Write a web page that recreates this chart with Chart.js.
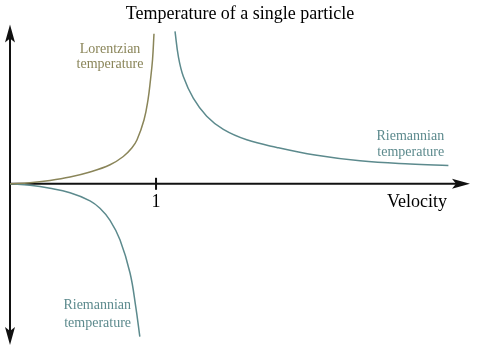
<!DOCTYPE html>
<html>
<head>
<meta charset="utf-8">
<script src="https://cdn.jsdelivr.net/npm/chart.js@4/dist/chart.umd.min.js"></script>
<style>
  html, body { margin: 0; padding: 0; background: #fff; }
  #wrap { width: 480px; height: 360px; }
</style>
</head>
<body>
<div id="wrap"><canvas id="chart"></canvas></div>
<script>
// velocity (x) and temperature (y)
const lorentzV = [0, 0.137, 0.274, 0.411, 0.548, 0.685, 0.776, 0.834, 0.870, 0.918, 0.945, 0.962, 0.976, 0.986];
const lorentzT = [0, 0.025, 0.083, 0.168, 0.293, 0.475, 0.683, 0.893, 1.10, 1.60, 2.10, 2.60, 3.10, 3.75];

const riemannLowV = [0, 0.137, 0.274, 0.411, 0.548, 0.616, 0.685, 0.753, 0.822, 0.861, 0.889];
const riemannLowT = [0, -0.038, -0.113, -0.225, -0.425, -0.613, -0.913, -1.40, -2.23, -3.07, -3.82];

const riemannHighV = [1.130, 1.153, 1.187, 1.255, 1.347, 1.461, 1.621, 1.827, 2.089, 2.397, 2.740, 3.002];
const riemannHighT = [3.81, 3.18, 2.68, 2.14, 1.69, 1.36, 1.10, 0.91, 0.72, 0.575, 0.495, 0.46];

const xTicks = [1];
const olive = "#8a8559";
const teal = "#5c8a8d";

const toPoints = (xs, ys) => xs.map((x, i) => ({ x: x, y: ys[i] }));

const serif = "'Liberation Serif', 'DejaVu Serif', serif";

// axes with arrows, tick and text labels
const axesPlugin = {
  id: "axesPlugin",
  beforeDatasetsDraw(chart) {
    const ctx = chart.ctx;
    const xs = chart.scales.x;
    const ys = chart.scales.y;
    const x0 = xs.getPixelForValue(0);
    const y0 = ys.getPixelForValue(0);
    const top = ys.getPixelForValue(ys.max);
    const bottom = ys.getPixelForValue(ys.min);
    const right = xs.getPixelForValue(xs.max);

    ctx.save();
    ctx.strokeStyle = "#111";
    ctx.fillStyle = "#111";
    ctx.lineWidth = 2;

    // y axis
    ctx.beginPath();
    ctx.moveTo(x0, top + 12);
    ctx.lineTo(x0, bottom - 12);
    ctx.stroke();
    // x axis
    ctx.beginPath();
    ctx.moveTo(x0, y0);
    ctx.lineTo(right - 12, y0);
    ctx.stroke();

    // arrow heads
    ctx.beginPath();
    ctx.moveTo(x0, top);
    ctx.lineTo(x0 - 5, top + 18);
    ctx.lineTo(x0, top + 14);
    ctx.lineTo(x0 + 5, top + 18);
    ctx.closePath();
    ctx.fill();

    ctx.beginPath();
    ctx.moveTo(x0, bottom);
    ctx.lineTo(x0 - 5, bottom - 18);
    ctx.lineTo(x0, bottom - 14);
    ctx.lineTo(x0 + 5, bottom - 18);
    ctx.closePath();
    ctx.fill();

    ctx.beginPath();
    ctx.moveTo(right, y0);
    ctx.lineTo(right - 18, y0 - 5);
    ctx.lineTo(right - 14, y0);
    ctx.lineTo(right - 18, y0 + 5);
    ctx.closePath();
    ctx.fill();

    // tick marks
    xTicks.forEach((t) => {
      const px = xs.getPixelForValue(t);
      ctx.beginPath();
      ctx.moveTo(px, y0 - 6);
      ctx.lineTo(px, y0 + 6);
      ctx.stroke();
    });
    ctx.restore();
  },
  afterDraw(chart) {
    const ctx = chart.ctx;
    const xs = chart.scales.x;
    const ys = chart.scales.y;
    const y0 = ys.getPixelForValue(0);
    ctx.save();
    ctx.textBaseline = "alphabetic";

    ctx.fillStyle = "#000";
    ctx.font = "18px " + serif;
    ctx.textAlign = "center";
    xTicks.forEach((t) => {
      ctx.fillText(String(t), xs.getPixelForValue(t), y0 + 23);
    });
    ctx.textAlign = "right";
    ctx.fillText("Velocity", xs.getPixelForValue(2.993), y0 + 23);

    ctx.font = "14px " + serif;
    ctx.fillStyle = olive;
    ctx.textAlign = "center";
    ctx.fillText("Lorentzian", xs.getPixelForValue(0.685), ys.getPixelForValue(3.275));
    ctx.fillText("temperature", xs.getPixelForValue(0.685), ys.getPixelForValue(2.9));

    ctx.fillStyle = teal;
    ctx.textAlign = "right";
    ctx.fillText("Riemannian", xs.getPixelForValue(2.973), ys.getPixelForValue(1.10));
    ctx.fillText("temperature", xs.getPixelForValue(2.973), ys.getPixelForValue(0.70));
    ctx.fillText("Riemannian", xs.getPixelForValue(0.829), ys.getPixelForValue(-3.125));
    ctx.fillText("temperature", xs.getPixelForValue(0.829), ys.getPixelForValue(-3.575));
    ctx.restore();
  }
};

const lineStyle = (color) => ({
  borderColor: color,
  borderWidth: 1.5,
  pointRadius: 0,
  showLine: true,
  fill: false,
  tension: 0.4,
  clip: false
});

new Chart(document.getElementById("chart"), {
  type: "scatter",
  data: {
    datasets: [
      Object.assign({ label: "Lorentzian temperature", data: toPoints(lorentzV, lorentzT) }, lineStyle(olive)),
      Object.assign({ label: "Riemannian temperature", data: toPoints(riemannLowV, riemannLowT) }, lineStyle(teal)),
      Object.assign({ label: "Riemannian temperature", data: toPoints(riemannHighV, riemannHighT) }, lineStyle(teal))
    ]
  },
  options: {
    responsive: true,
    maintainAspectRatio: false,
    animation: false,
    layout: {
      padding: { left: 10, right: 10, top: 0, bottom: 15 }
    },
    plugins: {
      legend: { display: false },
      tooltip: { enabled: false },
      title: {
        display: true,
        text: "Temperature of a single particle",
        color: "#000",
        font: { family: serif, size: 18, weight: "normal" },
        padding: { top: 3, bottom: 0 }
      }
    },
    scales: {
      x: { type: "linear", display: false, min: 0, max: 3.15 },
      y: { type: "linear", display: false, min: -4.03, max: 3.98 }
    }
  },
  plugins: [axesPlugin]
});
</script>
</body>
</html>
